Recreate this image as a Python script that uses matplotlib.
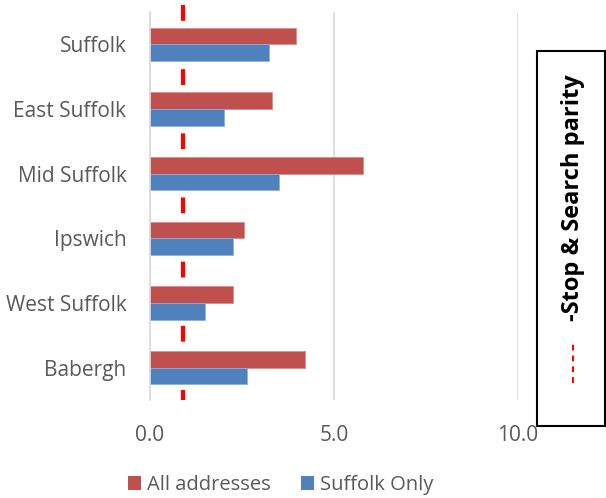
import matplotlib.pyplot as plt
from matplotlib.lines import Line2D
from matplotlib.patches import Rectangle, Patch
import numpy as np

# Data
areas = ["Suffolk", "East Suffolk", "Mid Suffolk", "Ipswich", "West Suffolk", "Babergh"]
all_addresses = [3.97, 3.32, 5.80, 2.55, 2.25, 4.20]
suffolk_only = [3.23, 2.00, 3.51, 2.26, 1.49, 2.63]
parity = 0.9
xticks = [0.0, 5.0, 10.0]

RED = "#C0504D"
BLUE = "#4F81BD"
GREY_TXT = "#595959"
GRID = "#D9D9D9"

plt.rcParams["font.family"] = ["Open Sans", "DejaVu Sans"]

fig = plt.figure(figsize=(6.06, 4.98), dpi=100)
ax = fig.add_axes([150 / 606, 98 / 498, 368 / 606, 388 / 498])

y = np.arange(len(areas))
h = 0.258

# parity line (behind bars, extends a bit above the plot)
ax.plot([parity, parity], [-0.61, 5.5], color="#FF0000", lw=3,
        dashes=(3.8, 11.6), zorder=1, clip_on=False, solid_capstyle="butt")

ax.barh(y - h / 2, all_addresses, height=h, color=RED, edgecolor="#D98C8A",
        linewidth=0.6, zorder=2, label="All addresses")
ax.barh(y + h / 2, suffolk_only, height=h, color=BLUE, edgecolor="#8EAEDB",
        linewidth=0.6, zorder=2, label="Suffolk Only")

ax.set_xlim(0, 10)
ax.set_ylim(5.5, -0.5)
ax.set_xticks(xticks)
ax.set_xticklabels([f"{v:.1f}" for v in xticks])
ax.set_yticks(y)
ax.set_yticklabels(areas)
ax.tick_params(axis="y", length=0, colors=GREY_TXT, labelsize=15, pad=17)
ax.tick_params(axis="x", length=0, colors=GREY_TXT, labelsize=15, pad=18)

for s in ["top", "right", "bottom"]:
    ax.spines[s].set_visible(False)
ax.spines["left"].set_color(GRID)
ax.spines["left"].set_linewidth(1.2)
ax.xaxis.grid(True, color=GRID, linewidth=1.2, zorder=0)
ax.set_axisbelow(True)

# legend at bottom
handles = [Patch(facecolor=RED), Patch(facecolor=BLUE)]
fig.legend(handles, ["All addresses", "Suffolk Only"], loc="center",
           bbox_to_anchor=(281 / 606, 1 - 485 / 498), ncol=2, frameon=False,
           fontsize=14.5, labelcolor=GREY_TXT, handlelength=0.65,
           handleheight=0.7, handletextpad=0.3, columnspacing=1.5)

# side box with parity legend
box = Rectangle((537 / 606, 1 - 426 / 498), 68 / 606, 375 / 498,
                transform=fig.transFigure, facecolor="white",
                edgecolor="black", linewidth=1.5, zorder=5)
fig.patches.append(box)
fig.text(573 / 606, 1 - 198 / 498, "-Stop & Search parity", rotation=90,
         ha="center", va="center", fontsize=17, fontweight="bold",
         color="black", zorder=6)
fig.lines.append(Line2D([573 / 606, 573 / 606], [1 - 383 / 498, 1 - 340 / 498],
                        transform=fig.transFigure, color="#FF0000", lw=1.5,
                        dashes=(2.8, 2.4), zorder=6))

fig.savefig("out.png", dpi=100)
